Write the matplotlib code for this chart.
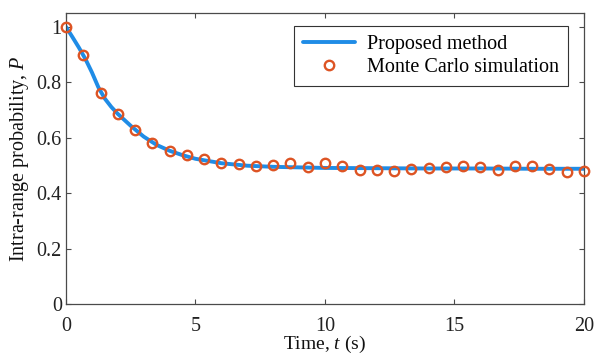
import numpy as np
import matplotlib
matplotlib.use('Agg')
from matplotlib import pyplot as plt
from matplotlib.ticker import FixedLocator, FormatStrFormatter


# analytical curve (proposed method), read at these times
t_curve = [0, 0.25, 0.5, 0.75, 1.0, 1.25, 1.5, 1.75, 2.0, 2.5, 3.0, 3.5, 4.0,
           4.5, 5.0, 6.0, 7.0, 8.0, 9.0, 10.0, 12.0, 14.0, 16.0, 18.0, 20.0]
p_curve = [1.0, 0.963, 0.925, 0.884, 0.836, 0.782, 0.741, 0.711, 0.686, 0.643,
           0.604, 0.574, 0.553, 0.537, 0.524, 0.508, 0.499, 0.495, 0.493,
           0.491, 0.490, 0.489, 0.489, 0.488, 0.488]

# Monte Carlo estimates, one every 2/3 s
t_mc = [i * 2.0 / 3.0 for i in range(31)]
p_mc = [1.0, 0.899, 0.762, 0.686, 0.629, 0.581, 0.553, 0.537, 0.523, 0.508,
        0.504, 0.497, 0.503, 0.508, 0.495, 0.509, 0.499, 0.485, 0.485, 0.481,
        0.487, 0.490, 0.495, 0.497, 0.496, 0.483, 0.497, 0.497, 0.486, 0.475,
        0.481]

x_ticks = [0, 5, 10, 15, 20]
y_ticks = [0, 0.2, 0.4, 0.6, 0.8, 1.0]

plt.rcParams['font.family'] = ['Liberation Serif', 'DejaVu Serif']
plt.rcParams['mathtext.fontset'] = 'custom'
plt.rcParams['mathtext.rm'] = 'Liberation Serif'
plt.rcParams['mathtext.it'] = 'Liberation Serif:italic'

fsize = 14.5
grey = '#4a4a4a'

fig = plt.figure(figsize=(6.01, 3.56), dpi=100)
ax = fig.add_axes([0.1098, 0.146, 0.8619, 0.8175])

ax.plot(t_curve, p_curve, color='#1f8ce6', lw=2.8, label='Proposed method',
        solid_capstyle='round', zorder=2)
ax.plot(t_mc, p_mc, ls='none', marker='o', ms=6.8, mew=1.7, mfc='none',
        mec='#dd5424', label='Monte Carlo simulation', zorder=3, clip_on=False)

ax.set_xlim(0, 20)
ax.set_ylim(0, 1.05)
ax.xaxis.set_major_locator(FixedLocator(x_ticks))
ax.yaxis.set_major_locator(FixedLocator(y_ticks))
ax.yaxis.set_major_formatter(FormatStrFormatter('%g'))

ax.tick_params(direction='in', length=3.5, width=0.8, colors=grey,
               labelcolor='#222222', labelsize=fsize, top=True, right=True)
ax.tick_params(axis='x', pad=9.5)
ax.tick_params(axis='y', pad=3)
for sp in ax.spines.values():
	sp.set_color(grey)
	sp.set_linewidth(0.9)

# x label sits tight under the tick labels
ax.set_xlabel('Time, $t$ (s)', fontsize=14, color='#111111', va='top')
ax.xaxis.set_label_coords(0.5, -0.102)
ax.set_ylabel('Intra-range probability, $P$', fontsize=fsize, labelpad=4,
              color='#111111')

leg = ax.legend(loc='upper right', bbox_to_anchor=(0.97, 0.955), fontsize=fsize,
                frameon=True, fancybox=False, framealpha=1, edgecolor='#333333',
                handlelength=2.6, handletextpad=0.6, borderpad=0.45,
                labelspacing=0.2, borderaxespad=0)
leg.get_frame().set_linewidth(0.8)

fig.savefig('out.png', dpi=100)
